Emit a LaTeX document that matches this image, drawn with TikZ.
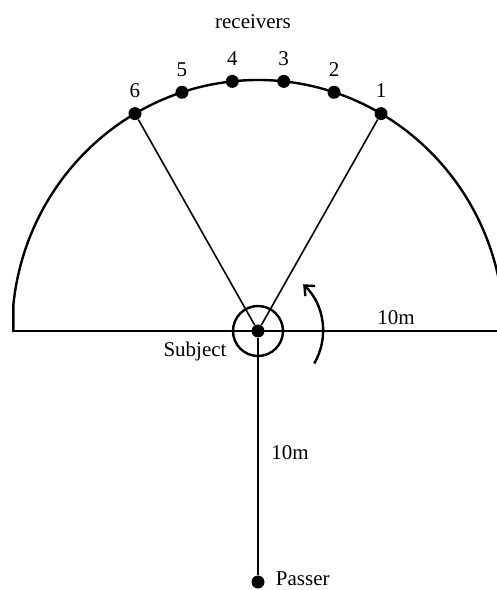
\documentclass[tikz,border=0pt]{standalone}
\usepackage{fontspec}
\setmainfont{Liberation Serif}
\usetikzlibrary{arrows.meta,positioning}

\begin{document}
\begin{tikzpicture}[x=0.5pt,y=0.5pt,>=Stealth,
  every node/.style={font=\fontsize{10.5}{12}\selectfont},
  recv/.style={circle,fill=black,inner sep=0pt,minimum size=6.5pt}]
\useasboundingbox (0,0) rectangle (497,590);
\clip (0,0) rectangle (497,590);
% subject and the half circle of receivers
\node[recv] (subj) at (258,259) {};
\coordinate (left) at (12,259);
\coordinate (right) at (497,259);
\draw[line width=1.2pt] (subj.center) ++(2:246 and 251)
  arc[start angle=2,end angle=174,x radius=246,y radius=251] |- (left);
\draw[line width=1pt] (left) -- (right);
\foreach \a/\n in {60/1,72/2,84/3,96/4,108/5,120/6}
  \node[recv,label={[label distance=1pt]above:\n}] (r\n) at ([shift={(\a:246 and 251)}]subj.center) {};
\draw[line width=0.8pt] (r1) -- (subj) -- (r6);
\draw[line width=1.2pt] (subj) circle[radius=25];
\draw[line width=1.2pt,-{Straight Barb[length=4pt,width=7pt]}]
  (subj.center) ++(-30:65) arc[start angle=-30,end angle=46,radius=65];
% passer
\node[recv,label={[label distance=2pt,yshift=1.5pt]right:Passer}] (pass) at (258,8) {};
\draw[line width=1pt] (subj) -- (pass);
% texts
\node (rcv) at (253,568) {receivers};
\node (subjlab) at (195,239) {Subject};
\node (disth) at (396,272) {10m};
\node (distv) at (290,137) {10m};
\end{tikzpicture}
\end{document}
